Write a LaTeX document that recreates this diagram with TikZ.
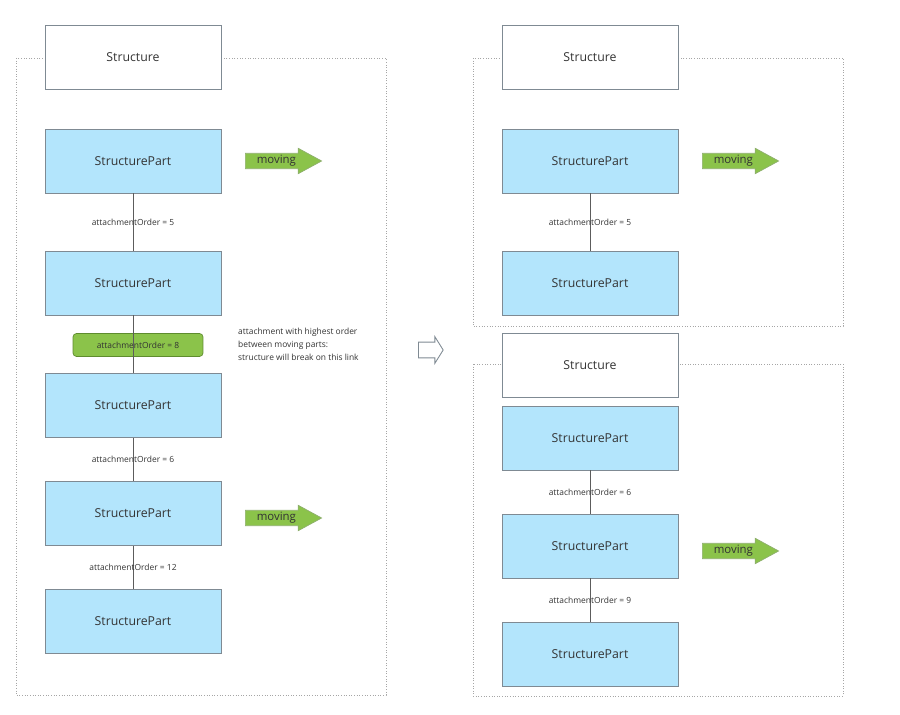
\documentclass[tikz,border=0pt]{standalone}
\usepackage{fontspec}
\setmainfont{Open Sans}
\usetikzlibrary{shapes.arrows}

\definecolor{partblue}{HTML}{B3E5FC}
\definecolor{edgegray}{HTML}{7F8A93}
\definecolor{movegreen}{HTML}{8BC34A}
\definecolor{darkgreen}{HTML}{5E8C2E}
\definecolor{txt}{HTML}{333333}

\begin{document}
\begin{tikzpicture}[x=0.02cm, y=-0.02cm, font=\fontsize{7}{8}\selectfont, text=txt,
    structbox/.style={draw=edgegray, fill=white, line width=0.5pt, minimum width=3.52cm, minimum height=1.28cm, inner sep=0pt},
    partbox/.style={structbox, fill=partblue},
    ordertext/.style={font=\fontsize{4.8}{6}\selectfont},
    orderbox/.style={ordertext, draw=darkgreen, fill=movegreen, line width=0.4pt, rounded corners=2pt, minimum width=2.6cm, minimum height=0.46cm},
    moving/.style={single arrow, draw=darkgreen!70, fill=movegreen, line width=0.4pt, anchor=west,
      single arrow head extend=0.1cm, single arrow tip angle=57, inner xsep=6.3pt, inner ysep=1.2pt,
      text height=4.3pt, text depth=1.7pt, font=\fontsize{6.5}{7}\selectfont},
    hollow/.style={single arrow, draw=edgegray, fill=white, line width=0.5pt, anchor=west,
      single arrow head extend=0.11cm, single arrow tip angle=116, inner xsep=5.4pt, inner ysep=4.2pt},
    link/.style={draw=txt!80, line width=0.5pt},
    note/.style={font=\fontsize{4.8}{7.4}\selectfont, align=left, anchor=west},
    frame/.style={draw=gray!70, densely dotted, line width=0.5pt}]
  \useasboundingbox (0,0) rectangle (900,715);

  % dotted frames
  \draw[frame] (16,58) rectangle (386,695);
  \draw[frame] (473,58) rectangle (843,326);
  \draw[frame] (473,364) rectangle (843,696);

  % before
  \node[structbox] (ls) at (133,57) {Structure};
  \node[partbox] (lp1) at (133,161) {StructurePart};
  \node[partbox] (lp2) at (133,283) {StructurePart};
  \node[partbox] (lp3) at (133,405.5) {StructurePart};
  \node[partbox] (lp4) at (133,513.5) {StructurePart};
  \node[partbox] (lp5) at (133,621.5) {StructurePart};
  \node[moving] (lm1) at (245,161) {moving};
  \node[moving] (lm2) at (245,518) {moving};
  \foreach \a/\b/\n in {lp1/lp2/5,lp3/lp4/6,lp4/lp5/12}
    \draw[link] (\a) -- node[ordertext]{attachmentOrder = \n} (\b);
  \node[orderbox] (lo) at (138,345) {attachmentOrder = 8};
  \draw[link] (lp2) -- (lp3);
  \node[note] (lnote) at (232,344) {attachment with highest order\\between moving parts:\\structure will break on this link};

  \node[hollow] (then) at (418,350) {};

  % after
  \node[structbox] (rs1) at (590,57) {Structure};
  \node[partbox] (rp1) at (590,161) {StructurePart};
  \node[partbox] (rp2) at (590,283.5) {StructurePart};
  \node[moving] (rm1) at (702,161) {moving};
  \node[structbox] (rs2) at (590,365) {Structure};
  \node[partbox] (rp3) at (590,438) {StructurePart};
  \node[partbox] (rp4) at (590,546) {StructurePart};
  \node[partbox] (rp5) at (590,654) {StructurePart};
  \node[moving] (rm2) at (702,551) {moving};
  \foreach \a/\b/\n in {rp1/rp2/5,rp3/rp4/6,rp4/rp5/9}
    \draw[link] (\a) -- node[ordertext]{attachmentOrder = \n} (\b);
\end{tikzpicture}
\end{document}
